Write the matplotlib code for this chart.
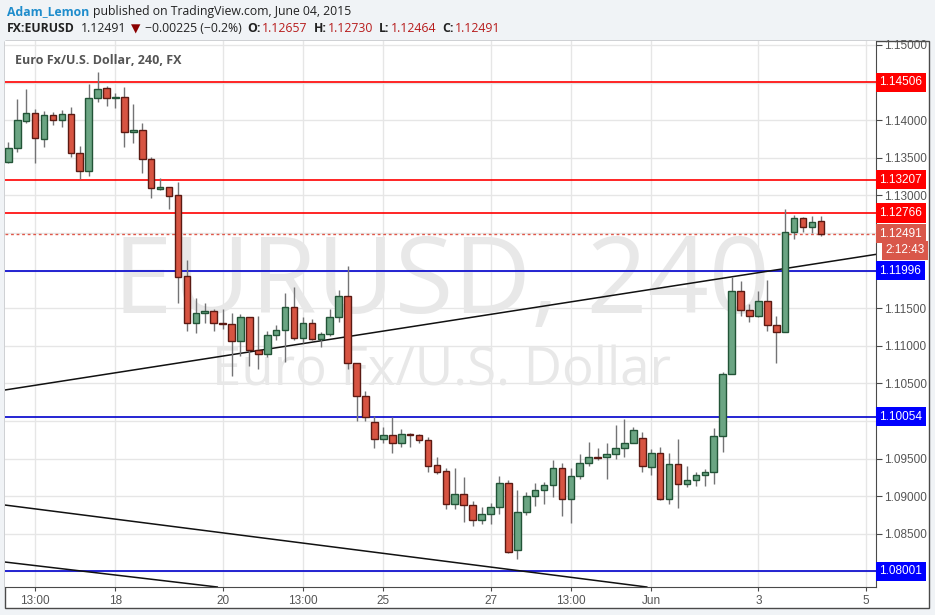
import matplotlib.pyplot as plt
import matplotlib.transforms as mtransforms
from matplotlib.patches import Rectangle

# 4h candles, EUR/USD, May 15 - Jun 4 2015
opens = [1.13448, 1.13626, 1.13993, 1.14091, 1.13754, 1.14065, 1.13998, 1.14078, 1.13559, 1.13324,
         1.14291, 1.14424, 1.14296, 1.14304, 1.13839, 1.13865, 1.13480, 1.13085, 1.13107, 1.13005,
         1.11928, 1.11299, 1.11432, 1.11458, 1.11305, 1.11290, 1.11058, 1.11378, 1.10940, 1.10887,
         1.11139, 1.11206, 1.11512, 1.11099, 1.11299, 1.11086, 1.11152, 1.11378, 1.11662, 1.10767,
         1.10332, 1.09986, 1.09756, 1.09809, 1.09703, 1.09827, 1.09809, 1.09743, 1.09410, 1.09335,
         1.08892, 1.09025, 1.08877, 1.08679, 1.08759, 1.08852, 1.09171, 1.08280, 1.08785, 1.08998,
         1.09078, 1.09144, 1.09370, 1.08958, 1.09264, 1.09437, 1.09521, 1.09517, 1.09557, 1.09637,
         1.09703, 1.09774, 1.09392, 1.09570, 1.08958, 1.09424, 1.09158, 1.09211, 1.09277, 1.09325,
         1.09796, 1.10621, 1.11724, 1.11472, 1.11392, 1.11591, 1.11272, 1.11179, 1.12509, 1.12695,
         1.12575, 1.12657]
highs = [1.13714, 1.14278, 1.14411, 1.14145, 1.14122, 1.14105, 1.14135, 1.14171, 1.13657, 1.14481,
         1.14637, 1.14454, 1.14357, 1.14437, 1.14215, 1.13958, 1.13506, 1.13227, 1.13118, 1.13174,
         1.12140, 1.11631, 1.11565, 1.11489, 1.11489, 1.11440, 1.11426, 1.11387, 1.11396, 1.11196,
         1.11276, 1.11698, 1.11778, 1.11378, 1.11352, 1.11187, 1.11485, 1.11742, 1.12065, 1.10771,
         1.10402, 1.10066, 1.09916, 1.10049, 1.09889, 1.09836, 1.09827, 1.09791, 1.09517, 1.09370,
         1.09370, 1.09251, 1.08939, 1.08860, 1.08913, 1.09268, 1.09215, 1.09082, 1.09051, 1.09175,
         1.09188, 1.09481, 1.09441, 1.09370, 1.09561, 1.09720, 1.09637, 1.09703, 1.09946, 1.10026,
         1.09916, 1.09854, 1.09627, 1.09650, 1.09578, 1.09760, 1.09401, 1.09325, 1.09357, 1.09903,
         1.10647, 1.11910, 1.11861, 1.11555, 1.11728, 1.11871, 1.11392, 1.12815, 1.12739, 1.12706,
         1.12726, 1.12730]
lows = [1.13426, 1.13581, 1.13958, 1.13426, 1.13647, 1.13936, 1.13913, 1.13506, 1.13218, 1.13262,
        1.14238, 1.14192, 1.14166, 1.13647, 1.13700, 1.13293, 1.12969, 1.13071, 1.12819, 1.11573,
        1.11196, 1.11166, 1.11307, 1.11200, 1.11227, 1.10602, 1.10868, 1.10735, 1.10687, 1.10855,
        1.11076, 1.10780, 1.11076, 1.11032, 1.11076, 1.10988, 1.11134, 1.11320, 1.10695, 1.10004,
        1.10004, 1.09637, 1.09711, 1.09570, 1.09658, 1.09658, 1.09711, 1.09325, 1.09291, 1.08833,
        1.08833, 1.08661, 1.08607, 1.08634, 1.08634, 1.08759, 1.08248, 1.08168, 1.08745, 1.08869,
        1.08900, 1.08993, 1.08740, 1.08647, 1.09224, 1.09401, 1.09481, 1.09228, 1.09494, 1.09517,
        1.09703, 1.09325, 1.09282, 1.08949, 1.08892, 1.08846, 1.09118, 1.09139, 1.09139, 1.09162,
        1.09583, 1.10621, 1.11400, 1.11320, 1.11386, 1.11200, 1.10775, 1.11179, 1.12416, 1.12517,
        1.12504, 1.12464]
closes = [1.13626, 1.14002, 1.14091, 1.13759, 1.14065, 1.13998, 1.14082, 1.13559, 1.13324, 1.14291,
          1.14411, 1.14291, 1.14301, 1.13839, 1.13869, 1.13480, 1.13094, 1.13107, 1.12994, 1.11918,
          1.11299, 1.11432, 1.11458, 1.11299, 1.11292, 1.11058, 1.11378, 1.10940, 1.10887, 1.11139,
          1.11206, 1.11512, 1.11107, 1.11299, 1.11086, 1.11152, 1.11378, 1.11662, 1.10767, 1.10332,
          1.10057, 1.09756, 1.09809, 1.09703, 1.09827, 1.09814, 1.09743, 1.09405, 1.09325, 1.08892,
          1.09025, 1.08877, 1.08679, 1.08759, 1.08852, 1.09171, 1.08261, 1.08785, 1.08998, 1.09078,
          1.09144, 1.09370, 1.08958, 1.09264, 1.09437, 1.09517, 1.09512, 1.09557, 1.09637, 1.09703,
          1.09876, 1.09397, 1.09570, 1.08958, 1.09424, 1.09158, 1.09211, 1.09277, 1.09325, 1.09796,
          1.10621, 1.11724, 1.11472, 1.11392, 1.11591, 1.11272, 1.11179, 1.12509, 1.12695, 1.12575,
          1.12642, 1.12491]

# horizontal levels drawn on the chart
red_levels = [1.14506, 1.13207, 1.12766]
blue_levels = [1.11996, 1.10054, 1.08001]
last_price = 1.12491

# trend lines, two anchor points each (candle index, price)
trend_lines = [
    [(-0.37, 1.10412), (96.7, 1.12207)],
    [(-0.37, 1.08882), (71.5, 1.07792)],
    [(-0.37, 1.08124), (23.4, 1.07792)],
]

xtick_pos = [3, 12, 24, 33, 42, 54, 63, 72, 84, 96]
xtick_labels = ['13:00', '18', '20', '13:00', '25', '27', '13:00', 'Jun', '3', '5']
ytick_vals = [1.080, 1.085, 1.090, 1.095, 1.100, 1.105, 1.110, 1.115,
              1.120, 1.125, 1.130, 1.135, 1.140, 1.145, 1.150]
# scale labels hidden behind the level boxes
hidden_ticks = [1.080, 1.100, 1.120, 1.125, 1.145]

W, H = 935, 615
UP_FILL, UP_EDGE = '#6ba583', '#225437'
DN_FILL, DN_EDGE = '#d75442', '#5b1a13'
WICK = '#737375'
FRAME = '#4a4a4a'

fig = plt.figure(figsize=(W / 100, H / 100), dpi=100, facecolor='#f0f3f6')

# white chart frame (plot + price scale + time scale)
fig.patches.append(Rectangle((5 / W, 1 - 608 / H), 924 / W, 567 / H, transform=fig.transFigure,
                             facecolor='white', edgecolor=FRAME, lw=1, zorder=-1))

ax = fig.add_axes([5 / W, 1 - 587 / H, 871 / W, 546 / H], zorder=1)
ax.set_facecolor('white')
ax.set_xlim(-0.37, 97.17)
ax.set_ylim(1.07792, 1.15053)

for s in ['left', 'top']:
    ax.spines[s].set_visible(False)
for s in ['right', 'bottom']:
    ax.spines[s].set_color(FRAME)

ax.yaxis.tick_right()
ax.set_yticks(ytick_vals)
ax.set_yticklabels(['' if any(abs(v - h) < 1e-9 for h in hidden_ticks) else f'{v:.5f}'
                    for v in ytick_vals], family=['Liberation Sans', 'DejaVu Sans'])
ax.tick_params(axis='y', direction='out', length=4, colors=FRAME, labelcolor='#555555',
               labelsize=8.5, pad=2)
ax.set_xticks(xtick_pos)
ax.set_xticklabels(xtick_labels, family=['Liberation Sans Narrow', 'Liberation Sans'])
ax.tick_params(axis='x', direction='out', length=3, colors=FRAME, labelcolor='#555555',
               labelsize=8.5, pad=3)
ax.grid(True, color='#e6e6e6', lw=1)
ax.set_axisbelow(True)

# watermark
ax.text(48.5, 1.11808, 'EURUSD, 240', fontsize=77, color='#e8e8e8', ha='center', va='center',
        family=['Open Sans', 'DejaVu Sans'], zorder=0.6)
ax.text(48.5, 1.10651, 'Euro Fx/U.S. Dollar', fontsize=38, color='#e8e8e8', ha='center',
        va='center', family=['Open Sans', 'DejaVu Sans'], zorder=0.6)

ax.text(0.011, 0.965, 'Euro Fx/U.S. Dollar, 240, FX', transform=ax.transAxes, fontsize=9,
        fontweight='bold', color='#555555', ha='left', va='center',
        family=['Open Sans', 'DejaVu Sans'])

# levels
for lv in red_levels:
    ax.axhline(lv, color='#ff0000', lw=1.2, zorder=2)
for lv in blue_levels:
    ax.axhline(lv, color='#0000cc', lw=1.2, zorder=2)
ax.axhline(last_price, color='#e0584a', lw=1, ls=(0, (2, 2)), zorder=2)

for p1, p2 in trend_lines:
    ax.axline(p1, p2, color='#111111', lw=1.1, zorder=2)

# candles
body_w = 0.74
for i in range(len(opens)):
    o, h, l, c = opens[i], highs[i], lows[i], closes[i]
    up = c >= o
    ax.vlines(i, l, h, color=WICK, lw=1, zorder=3)
    bottom = min(o, c)
    height = max(abs(c - o), 0.00008)
    ax.bar(i, height, bottom=bottom, width=body_w, color=UP_FILL if up else DN_FILL,
           edgecolor=UP_EDGE if up else DN_EDGE, lw=1, zorder=4)

# price labels on the scale
btrans = mtransforms.blended_transform_factory(ax.transAxes, ax.transData)
label_kw = dict(transform=btrans, color='white', fontsize=8.5, ha='left', va='center',
                clip_on=False, zorder=6, family=['Liberation Sans', 'DejaVu Sans'])
for lv in red_levels:
    ax.text(1.004, lv, f'{lv:.5f}', bbox=dict(boxstyle='square,pad=0.3', fc='#ff0000', ec='none'),
            **label_kw)
for lv in blue_levels:
    ax.text(1.004, lv, f'{lv:.5f}', bbox=dict(boxstyle='square,pad=0.3', fc='#0000ff', ec='none'),
            **label_kw)
ax.text(1.004, last_price, f'{last_price:.5f}',
        bbox=dict(boxstyle='square,pad=0.3', fc='#d9574a', ec='none'), **label_kw)
ax.text(1.0105, 1.12273, '2:12:43', bbox=dict(boxstyle='square,pad=0.3', fc='#d9574a', ec='none'),
        **label_kw)

# header
hdr_font = ['Open Sans', 'DejaVu Sans']
fig.canvas.draw()
r = fig.canvas.get_renderer()


def put_row(pieces, y):
    x = 7
    for s, bold, col, gap in pieces:
        t = fig.text(x / W, 1 - y / H, s, fontsize=8.8, color=col, va='center', ha='left',
                     fontweight='bold' if bold else 'normal', family=hdr_font)
        bb = t.get_window_extent(renderer=r)
        x = bb.x1 + gap


put_row([('Adam_Lemon', True, '#1e8ccc', 4),
         ('published on TradingView.com, June 04, 2015', False, '#222222', 0)], 12)
put_row([('FX:EURUSD', True, '#222222', 6),
         ('1.12491', False, '#222222', 5),
         ('\u25bc', False, '#8b0000', 4),
         ('\u22120.00225 (\u22120.2%)', False, '#222222', 6),
         ('O:', True, '#222222', 1), ('1.12657', False, '#b71c1c', 6),
         ('H:', True, '#222222', 1), ('1.12730', False, '#b71c1c', 6),
         ('L:', True, '#222222', 1), ('1.12464', False, '#b71c1c', 6),
         ('C:', True, '#222222', 1), ('1.12491', False, '#b71c1c', 0)], 29)

fig.savefig('out.png', dpi=100, facecolor=fig.get_facecolor())
